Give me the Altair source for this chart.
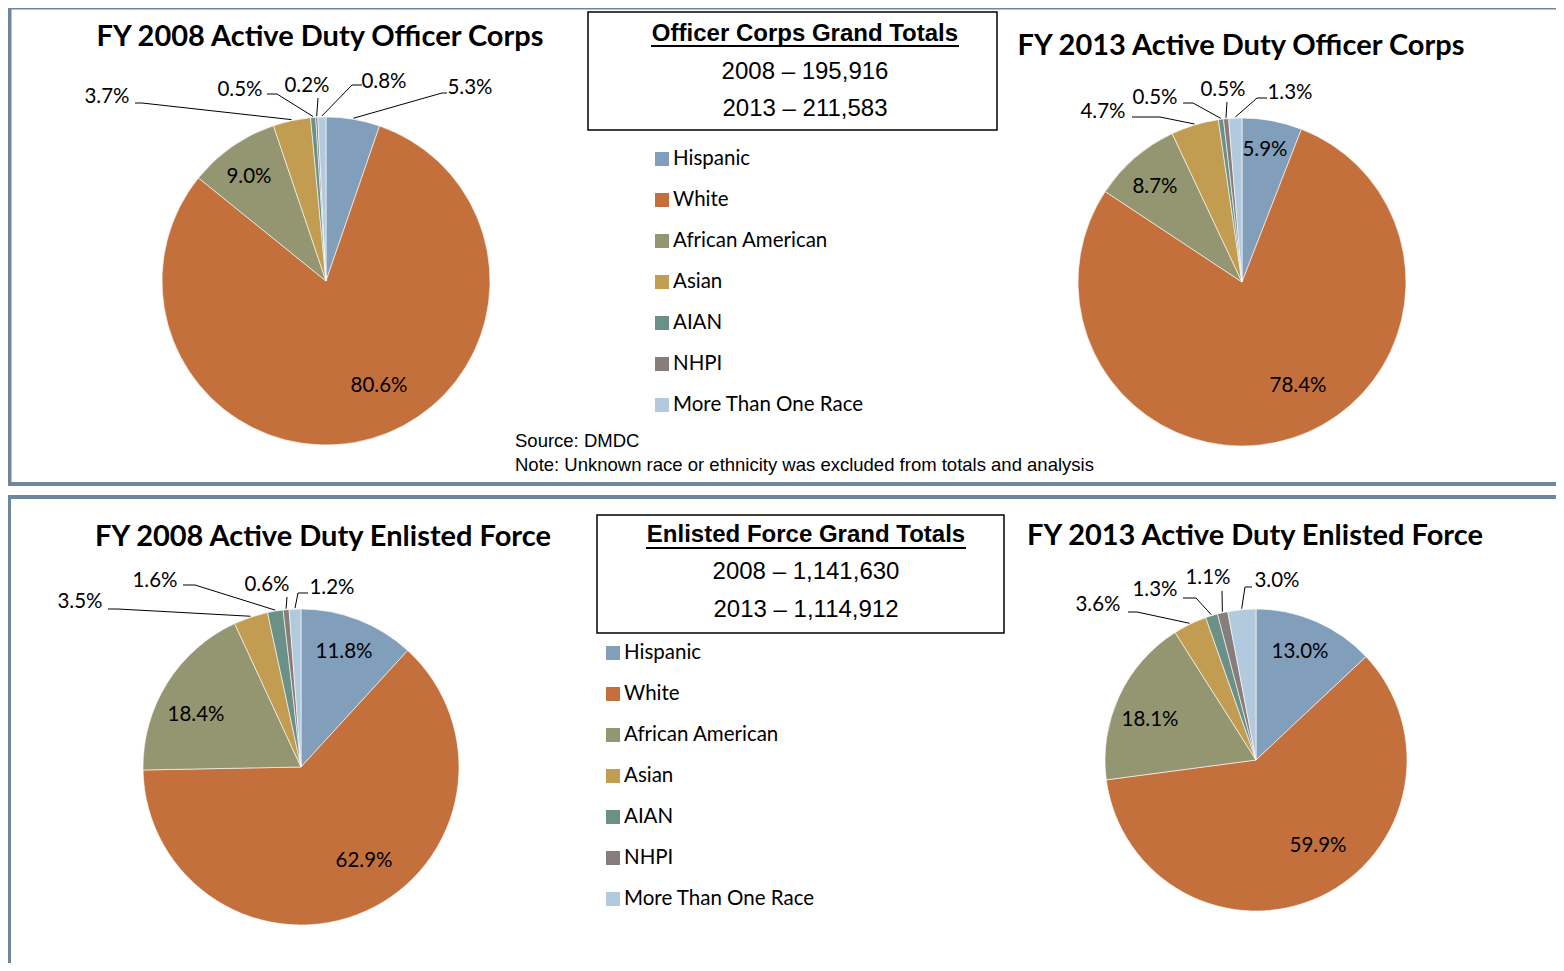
import math
import altair as alt
import pandas as pd

# ---------------- data ----------------
races = ["Hispanic", "White", "African American", "Asian", "AIAN", "NHPI", "More Than One Race"]
colors = ["#819EBB", "#C4703C", "#939670", "#C29D51", "#6A9088", "#877D7B", "#B3C9DE"]

officer_2008 = [5.3, 80.6, 9.0, 3.7, 0.5, 0.2, 0.8]
officer_2013 = [5.9, 78.4, 8.7, 4.7, 0.5, 0.5, 1.3]
enlisted_2008 = [11.8, 62.9, 18.4, 3.5, 1.6, 0.6, 1.2]
enlisted_2013 = [13.0, 59.9, 18.1, 3.6, 1.3, 1.1, 3.0]

pie_titles = [
    "FY 2008 Active Duty Officer Corps",
    "FY 2013 Active Duty Officer Corps",
    "FY 2008 Active Duty Enlisted Force",
    "FY 2013 Active Duty Enlisted Force",
]
box_titles = ["Officer Corps Grand Totals", "Enlisted Force Grand Totals"]
box_lines = [["2008 \u2013 195,916", "2013 \u2013 211,583"],
             ["2008 \u2013 1,141,630", "2013 \u2013 1,114,912"]]
source_lines = ["Source: DMDC",
                "Note: Unknown race or ethnicity was excluded from  totals and analysis"]

# ---------------- layout (image pixel coordinates) ----------------
W, H = 1548, 955
OFF = 8
XS = alt.Scale(domain=[OFF, OFF + W], range=[0, W], nice=False, zero=False)
YS = alt.Scale(domain=[OFF, OFF + H], range=[0, H], nice=False, zero=False)
CS = alt.Scale(domain=races, range=colors)

pies = [
    dict(values=officer_2008, cx=326, cy=281, r=164, tx=320, ty=37),
    dict(values=officer_2013, cx=1242, cy=282, r=164, tx=1241, ty=46),
    dict(values=enlisted_2008, cx=301, cy=767, r=158, tx=323, ty=537),
    dict(values=enlisted_2013, cx=1256, cy=760, r=151, tx=1255, ty=536),
]
# per pie, per race: text centre, and leader start / bend (None = inside label)
label_layout = [
    {0: (470, 88, (447, 93), (442, 93)), 1: (379, 386, None, None), 2: (249, 177, None, None),
     3: (107, 97, (135, 103), (142, 103)), 4: (240, 90, (267, 94), (277, 94)),
     5: (307, 86, (318, 98), None), 6: (384, 82, (362, 85), (352, 85))},
    {0: (1265, 150, None, None), 1: (1298, 386, None, None), 2: (1155, 187, None, None),
     3: (1103, 112, (1132, 117), (1160, 117)), 4: (1155, 98, (1183, 103), (1193, 103)),
     5: (1223, 90, (1227, 102), None), 6: (1290, 93, (1267, 98), (1257, 98))},
    {0: (344, 652, None, None), 1: (364, 861, None, None), 2: (196, 715, None, None),
     3: (80, 602, (108, 609), (118, 609)), 4: (155, 581, (183, 585), (195, 585)),
     5: (267, 585, (287, 597), None), 6: (332, 588, (308, 593), (298, 593))},
    {0: (1300, 652, None, None), 1: (1318, 846, None, None), 2: (1150, 720, None, None),
     3: (1098, 605, (1128, 612), (1137, 612)), 4: (1155, 590, (1183, 598), (1196, 598)),
     5: (1208, 578, (1222, 591), None), 6: (1277, 581, (1252, 587), (1245, 587))},
]
boxes = [dict(x=588, x2=997, y=12, y2=130, ty=34, uy=46, l1=72, l2=109, cx=805),
         dict(x=597, x2=1004, y=515, y2=633, ty=535, uy=548, l1=572, l2=610, cx=806)]
underline_half = [154, 160]
legends = [dict(sx=655, tx=673, y0=159), dict(sx=606, tx=624, y0=653)]
LEG_STEP = 41
frames = [dict(x=9.5, x2=1600, y=7.5, y2=484), dict(x=9, x2=1600, y=497, y2=1100)]

TITLE_FONT = "Lato"
BODY_FONT = "Lato"
ARIAL = "Liberation Sans"


def X(f):
    return alt.X(f, type="quantitative", scale=XS, axis=None)


def Y(f):
    return alt.Y(f, type="quantitative", scale=YS, axis=None)


layers = []

# frames
fr = pd.DataFrame(frames)
layers.append(alt.Chart(fr).mark_rect(fillOpacity=0, stroke="#6F879D", strokeWidth=4).encode(
    x=X("x"), x2="x2", y=Y("y"), y2="y2"))

# boxes
bx = pd.DataFrame(boxes)
layers.append(alt.Chart(bx).mark_rect(fill="white", stroke="black", strokeWidth=1.5).encode(
    x=X("x"), x2="x2", y=Y("y"), y2="y2"))

# pies
for p in pies:
    df = pd.DataFrame({"race": races, "value": p["values"], "idx": list(range(len(races)))})
    layers.append(alt.Chart(df).mark_arc(radius=p["r"], stroke="white", strokeWidth=0.6).encode(
        theta=alt.Theta("value:Q", stack=True),
        color=alt.Color("race:N", scale=CS, legend=None),
        order=alt.Order("idx:Q"),
        x=alt.value(p["cx"] - OFF),
        y=alt.value(p["cy"] - OFF),
    ))

# slice labels and leader lines
lab_rows, seg_rows = [], []
for p, lay in zip(pies, label_layout):
    vals = p["values"]
    tot = sum(vals)
    for i, v in enumerate(vals):
        tx, ty, start, bend = lay[i]
        lab_rows.append(dict(x=tx, y=ty, text=f"{v:.1f}%"))
        if start is None:
            continue
        a = (sum(vals[:i]) + v / 2) / tot * 2 * math.pi
        ex = p["cx"] + (p["r"] + 1) * math.sin(a)
        ey = p["cy"] - (p["r"] + 1) * math.cos(a)
        pts = [start] + ([bend] if bend else []) + [(ex, ey)]
        for (x1, y1), (x2, y2) in zip(pts[:-1], pts[1:]):
            seg_rows.append(dict(x=x1, y=y1, x2=x2, y2=y2))

layers.append(alt.Chart(pd.DataFrame(seg_rows)).mark_rule(color="black", strokeWidth=1).encode(
    x=X("x"), x2="x2", y=Y("y"), y2="y2"))
layers.append(alt.Chart(pd.DataFrame(lab_rows)).mark_text(
    font=BODY_FONT, fontSize=20.5, color="black", baseline="middle", align="center").encode(
    x=X("x"), y=Y("y"), text="text:N"))

# pie titles
tt = pd.DataFrame({"x": [p["tx"] for p in pies], "y": [p["ty"] for p in pies], "text": pie_titles})
layers.append(alt.Chart(tt).mark_text(
    font=TITLE_FONT, fontSize=29, fontWeight="bold", color="black", baseline="middle", align="center").encode(
    x=X("x"), y=Y("y"), text="text:N"))

# box texts
bt = pd.DataFrame({"x": [b["cx"] for b in boxes], "y": [b["ty"] for b in boxes], "text": box_titles})
layers.append(alt.Chart(bt).mark_text(
    font=ARIAL, fontSize=24, fontWeight="bold", color="black", baseline="middle", align="center").encode(
    x=X("x"), y=Y("y"), text="text:N"))
ul = pd.DataFrame({"x": [b["cx"] - h for b, h in zip(boxes, underline_half)],
                   "x2": [b["cx"] + h for b, h in zip(boxes, underline_half)],
                   "y": [b["uy"] for b in boxes]})
layers.append(alt.Chart(ul).mark_rule(color="black", strokeWidth=2).encode(
    x=X("x"), x2="x2", y=Y("y")))
bl_rows = []
for b, lines in zip(boxes, box_lines):
    bl_rows.append(dict(x=b["cx"], y=b["l1"], text=lines[0]))
    bl_rows.append(dict(x=b["cx"], y=b["l2"], text=lines[1]))
layers.append(alt.Chart(pd.DataFrame(bl_rows)).mark_text(
    font=ARIAL, fontSize=24, color="black", baseline="middle", align="center").encode(
    x=X("x"), y=Y("y"), text="text:N"))

# legends
sw_rows, lt_rows = [], []
for lg in legends:
    for i, r in enumerate(races):
        yc = lg["y0"] + i * LEG_STEP
        sw_rows.append(dict(x=lg["sx"], x2=lg["sx"] + 14, y=yc - 7, y2=yc + 7, race=r))
        lt_rows.append(dict(x=lg["tx"], y=yc, text=r))
layers.append(alt.Chart(pd.DataFrame(sw_rows)).mark_rect().encode(
    x=X("x"), x2="x2", y=Y("y"), y2="y2", color=alt.Color("race:N", scale=CS, legend=None)))
layers.append(alt.Chart(pd.DataFrame(lt_rows)).mark_text(
    font=BODY_FONT, fontSize=20.5, color="black", baseline="middle", align="left").encode(
    x=X("x"), y=Y("y"), text="text:N"))

# source / note
sn = pd.DataFrame({"x": [515, 515], "y": [441, 465], "text": source_lines})
layers.append(alt.Chart(sn).mark_text(
    font=ARIAL, fontSize=18.5, color="black", baseline="middle", align="left").encode(
    x=X("x"), y=Y("y"), text="text:N"))

chart = alt.layer(*layers).resolve_scale(theta="independent").properties(
    width=W, height=H, padding=0, autosize="none", background="white"
).configure_view(stroke=None)

chart.save("out.html", embed_options={"renderer": "svg", "actions": False})
